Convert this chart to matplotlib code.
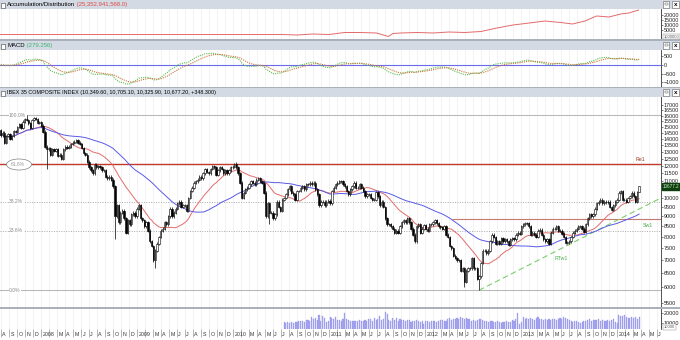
import matplotlib
matplotlib.use('Agg')
import matplotlib.pyplot as plt
import matplotlib.dates as mdates
import matplotlib.transforms as mtransforms
from matplotlib.patches import Rectangle, Ellipse
from matplotlib.ticker import FixedLocator, NullFormatter, FuncFormatter
import numpy as np
import pandas as pd

plt.rcParams['font.family'] = ['Liberation Sans', 'DejaVu Sans']

W, H = 680, 340

# ---------------- data: weekly IBEX 35 closes from week of 2007-07-30 ----------------
first_week = '2007-07-30'
first_open = 14700

close_2007 = [14300, 14500, 13700, 14250, 14400,            # Aug
              14000, 14250, 14650, 14600,                   # Sep
              15000, 15250, 14950, 15450, 15700,            # Oct
              15600, 15300, 14900, 15600,                   # Nov
              15750, 15700, 15350, 15400, 15100]            # Dec
close_2008 = [14600, 13400, 13200, 13300,
              12800, 13200, 13100, 13200,
              12700, 12800, 12500, 13200, 13400,
              13300, 13400, 13600, 13700,
              13800, 13900, 13700, 13600,
              13300, 12900, 12800, 12300, 11900,
              11700, 11500, 12100, 11900,
              12000, 11900, 11700, 11700,
              11300, 11200, 11300, 11100, 10700,
              9000, 9600, 8700, 9200,
              9300, 8900, 8200, 8800,
              8600, 9100, 9200, 9000, 9400]
close_2009 = [9600, 8900, 8800, 8500,
              8700, 8300, 7800, 7600,
              7000, 7400, 7700, 8000, 8300,
              8400, 8700, 8600, 9000,
              9400, 9000, 9200, 9400,
              9700, 9800, 9500, 9600, 9600,
              9300, 10000, 10400, 10600,
              10900, 11000, 11100, 11300, 11200,
              11500, 11800, 11600, 11500,
              11800, 12000, 11900, 11400,
              11700, 11900, 11800, 11500, 11700,
              11500, 11700, 11900, 11950]
close_2010 = [12150, 11900, 11500, 10900,
              10000, 10300, 10500, 10600,
              10800, 11000, 10900, 10800, 11100,
              11200, 11000, 10900, 10300,
              9000, 9700, 9200, 9200, 8900,
              9100, 9800, 9500, 9300,
              9900, 10000, 10200, 10500,
              10700, 10300, 10200, 9900, 10400,
              10400, 10600, 10700, 10500,
              10800, 10800, 10900, 10800,
              10900, 10500, 10200, 9600, 9800,
              9800, 9600, 9800, 9850]
close_2011 = [9700, 10400, 10600, 10800, 10900,
              11000, 11000, 10800, 10700,
              10400, 10200, 10500, 10700,
              10900, 10600, 10600, 10800,
              10600, 10400, 10100, 10200, 10200,
              10000, 9900, 9900, 10350,
              10100, 9600, 9800, 9500,
              8900, 8600, 8600, 8500, 8400,
              8200, 8300, 8200, 8500,
              8700, 8800, 8700, 8900, 8700,
              8400, 8100, 7800, 8500,
              8600, 8200, 8400, 8550]
close_2012 = [8400, 8300, 8600, 8600, 8700,
              8800, 8650, 8500, 8450,
              8400, 8500, 8100, 8000,
              7600, 7500, 7200, 7100, 7000,
              7000, 6600, 6700, 6200,
              6600, 6700, 6700, 7100,
              6700, 6700, 6300, 6400, 6900,
              7400, 7400, 7300, 7400,
              7800, 8100, 8000, 7700,
              7800, 7700, 7950, 7800, 7900,
              7800, 7650, 7900, 7950,
              7900, 8100, 8200, 8150, 8500]
close_2013 = [8600, 8650, 8650, 8500,
              8100, 8200, 8100, 8000,
              8300, 8350, 8100, 7900,
              7800, 7900, 7700, 8200, 8400,
              8400, 8500, 8300, 8300,
              8150, 8000, 7750, 7760,
              7800, 8000, 8200, 8300, 8400,
              8500, 8500, 8400, 8250,
              8600, 8900, 9100, 9000, 9100,
              9400, 9700, 9800, 9900,
              9700, 9800, 9750, 9800,
              9500, 9350, 9600, 9800, 9900]
close_2014 = [10300, 10400, 9900, 9900,
              9800, 10000, 10100, 10300,
              10100, 9800, 10329, 10677.2]
last_open, last_high, last_low = 10349.6, 10705.1, 10325.9

# long wicks (week index -> price)
spike_highs = {14: 16040, 127: 12200}
spike_lows = {25: 11800, 62: 7900, 84: 6700, 146: 8600, 252: 6000, 260: 5905}

# weekly volume, starting at week index 154 (Jul 2010)
vol_first_week = 154
volume = [11000, 10500, 10800,
          10500, 11000, 10200, 10800, 11500,
          12000, 11800, 12500, 11500,
          12800, 13500, 12000, 16000,
          14500, 15000, 13000, 18000, 12500,
          17000, 15500, 11000, 12000,
          16500, 15000, 14500, 16000, 13500,
          13500, 12000, 14000, 20500,
          14000, 13000, 12000, 12500,
          12500, 11800, 12000, 13000,
          12500, 12000, 13500, 12500, 14000,
          13800, 12500, 15000, 13000,
          14000, 17500, 13500, 14500,
          21000, 19000, 13500, 12000, 15500,
          13000, 15000, 12500, 14000,
          13500, 13000, 12500, 13500, 13000,
          11500, 12500, 12500, 13000,
          12000, 11000, 12000, 9500,
          12500, 12000, 11500, 12500, 12000,
          12000, 11500, 12500, 12800,
          13000, 12500, 12000, 14000,
          15500, 13000, 14500, 14000, 15000,
          14500, 16000, 15000, 13800,
          15000, 14500, 14000, 12500,
          13500, 12500, 12800, 14000, 14500,
          13000, 12000, 12500, 11500,
          12000, 12500, 11500, 11000,
          12000, 11000, 10500, 11500, 11000,
          12500, 11500, 11000, 13000,
          12000, 14000, 20000, 9500, 11500,
          16500, 14500, 15000, 14000,
          15000, 14000, 13500, 15500,
          16000, 14000, 14500, 13500,
          14500, 13500, 14500, 13000, 14000,
          14000, 13500, 14500, 15000,
          14500, 16000, 15500, 14000,
          13500, 12000, 11500, 12000, 12500,
          11000, 10500, 11500, 12000,
          12500, 13000, 14000, 12500, 13000,
          13500, 13000, 14500, 12500,
          13500, 12500, 12000, 13000,
          12000, 13000, 14500, 11000, 10500,
          18500, 17500, 17000, 18000,
          16000, 15500, 15000, 16500,
          15500, 16000, 14500, 16000]

# accumulation / distribution (millions)
ad_dates = ['2007-07-30', '2010-07-05', '2010-09-01', '2010-11-01', '2011-01-01',
            '2011-03-01', '2011-05-01', '2011-07-01', '2011-08-15', '2011-09-01',
            '2011-10-01', '2011-12-01', '2012-02-01', '2012-04-01', '2012-06-01',
            '2012-08-01', '2012-10-01', '2012-12-01', '2013-02-01', '2013-04-01',
            '2013-06-01', '2013-07-15', '2013-09-01', '2013-10-15', '2013-12-01',
            '2014-01-15', '2014-02-15', '2014-03-24']
ad_values = [500, 500, 0, 1000, 500,
             2500, 2500, 2000, -1500, 1500,
             2000, 2500, 2000, 3000, 2500,
             3500, 7000, 10000, 12000, 14000,
             12500, 11000, 14000, 19000, 18000,
             21000, 22000, 25000]

fib_high = 16040
fib_low = 5905
fib_levels = [0.0, 0.236, 0.382, 0.618, 1.0]
fib_labels = ['0.0%', '23.6%', '38.2%', '61.8%', '100.0%']

sw1_level = 8850
sw1_start = '2012-04-13'
rtw1_points = [('2012-07-25', 5905), ('2013-08-13', 7910)]

header_ad = ('Accumulation/Distribution', ' (25,352,941,568.0)')
header_macd = ('MACD', ' (279.256)')
header_main = 'IBEX 35 COMPOSITE INDEX (10,349.60, 10,705.10, 10,325.90, 10,677.20, +348.300)'
last_close_label = '10677.2'
month_letters = ['J', 'F', 'M', 'A', 'M', 'J', 'J', 'A', 'S', 'O', 'N', 'D']

# ---------------- prepare ----------------
closes = close_2007 + close_2008 + close_2009 + close_2010 + close_2011 + close_2012 + close_2013 + close_2014
weeks = pd.date_range(first_week, periods=len(closes), freq='7D')
xw = mdates.date2num(weeks) + 2
c = np.array(closes, float)
o = np.r_[first_open, c[:-1]]
o[-1] = last_open
hi = np.maximum(o, c) * 1.008
lo = np.minimum(o, c) * 0.992
hi[-1], lo[-1] = last_high, last_low
for k, v in spike_highs.items():
    hi[k] = v
for k, v in spike_lows.items():
    lo[k] = v

s = pd.Series(c)
ma_red = s.rolling(20, min_periods=1).mean()
ma_blue = s.rolling(50, min_periods=1).mean()
macd = s.ewm(span=12, adjust=False).mean() - s.ewm(span=26, adjust=False).mean()
signal = macd.ewm(span=9, adjust=False).mean()

px_per_day = 0.2628
x_left = mdates.date2num(pd.Timestamp('2007-07-29'))
x_right = x_left + 661 / px_per_day
months = pd.date_range('2007-08-01', '2014-06-01', freq='MS')
month_x = mdates.date2num(months)

# ---------------- figure ----------------
fig = plt.figure(figsize=(6.8, 3.4), dpi=100)
fig.patch.set_facecolor('white')


def fy(y):
    return 1 - y / H


def add_ax(y0, y1):
    ax = fig.add_axes([0, fy(y1), 661 / W, (y1 - y0) / H])
    ax.set_xlim(x_left, x_right)
    for sp in ['top', 'left', 'bottom']:
        ax.spines[sp].set_visible(False)
    ax.spines['right'].set_color('#404040')
    ax.spines['right'].set_linewidth(0.6)
    ax.yaxis.tick_right()
    ax.tick_params(axis='y', labelsize=3.9, length=1.5, width=0.4, pad=0.6, colors='#202020')
    ax.tick_params(axis='y', which='minor', length=1, width=0.3)
    ax.set_xticks(month_x)
    ax.tick_params(axis='x', length=0, labelbottom=False)
    ax.grid(axis='x', color='#ededed', lw=0.5)
    ax.set_axisbelow(True)
    return ax


ax_ad = add_ax(9, 39)
ax_macd = add_ax(50, 87)
ax_main = add_ax(97, 307)
ax_vol = add_ax(309, 329)

# headers and separators
for y0, y1 in [(0, 9), (41, 50), (88, 97)]:
    fig.add_artist(Rectangle((0, fy(y1)), 1, (y1 - y0) / H, transform=fig.transFigure,
                             facecolor='#d3dae3', edgecolor='none', zorder=0.5))
    fig.add_artist(Rectangle((0.5 / W, fy(y0 + 7.5)), 5 / W, 5 / H, transform=fig.transFigure,
                             facecolor='white', edgecolor='#404040', lw=0.4))
    fig.add_artist(Rectangle((663 / W, fy(y0 + 8)), 6 / W, 6.5 / H, transform=fig.transFigure,
                             facecolor='white', edgecolor='#606060', lw=0.4))
    fig.add_artist(Rectangle((672 / W, fy(y0 + 8)), 6.5 / W, 6.5 / H, transform=fig.transFigure,
                             facecolor='white', edgecolor='#606060', lw=0.4))
    fig.text(675.3 / W, fy(y0 + 4.7), 'x', fontsize=4.5, fontweight='bold', ha='center', va='center')
    fig.add_artist(Rectangle((664.5 / W, fy(y0 + 5)), 3 / W, 2 / H, transform=fig.transFigure,
                             facecolor='none', edgecolor='#404040', lw=0.3))
for y0, y1 in [(39, 41), (87, 88), (307, 309)]:
    fig.add_artist(Rectangle((0, fy(y1)), 1, (y1 - y0) / H, transform=fig.transFigure,
                             facecolor='#aab1ba', edgecolor='none', zorder=0.5))

t_ad = fig.text(7 / W, fy(4.6), header_ad[0], fontsize=4.3, va='center', ha='left')
t_macd = fig.text(7 / W, fy(45.6), header_macd[0], fontsize=4.3, va='center', ha='left')
fig.text(7 / W, fy(92.6), header_main, fontsize=3.9, va='center', ha='left')
fig.canvas.draw()
renderer = fig.canvas.get_renderer()
fig.text(t_ad.get_window_extent(renderer).x1 / W, fy(4.6), header_ad[1], fontsize=4.3,
         va='center', ha='left', color='#e04848')
fig.text(t_macd.get_window_extent(renderer).x1 / W, fy(45.6), header_macd[1], fontsize=4.3,
         va='center', ha='left', color='#3cb371')

# ---------------- A/D ----------------
ax_ad.plot(mdates.date2num(pd.to_datetime(ad_dates)), ad_values, color='#e46a6a', lw=0.7)
ax_ad.set_ylim(-4000, 26000)
ax_ad.set_yticks([5000, 10000, 15000, 20000])
ax_ad.yaxis.set_minor_locator(FixedLocator(range(-3000, 26000, 1000)))
ax_ad.text(1.004, 0.08, '1000000', transform=ax_ad.transAxes, fontsize=3.0, color='#555555',
           ha='left', va='center', clip_on=False,
           bbox=dict(boxstyle='square,pad=0.15', fc='white', ec='#808080', lw=0.3))

# ---------------- MACD ----------------
ax_macd.axhline(0, color='#6a6aee', lw=0.8)
ax_macd.plot(xw, macd, color='#5fbf4f', lw=0.8, ls=(0, (1, 1)))
ax_macd.plot(xw, signal, color='#c8743c', lw=0.8, ls=(0, (1, 1)))
ax_macd.set_ylim(-1272, 867)
ax_macd.set_yticks([-1000, -500, 0, 500])
ax_macd.yaxis.set_minor_locator(FixedLocator(range(-1200, 900, 100)))

# ---------------- main price panel ----------------
ax_main.set_yscale('log')
ax_main.set_ylim(5367, 17793)
ax_main.yaxis.set_major_locator(FixedLocator(range(5500, 17001, 500)))
# the 10500 label sits under the last-price tag
ax_main.yaxis.set_major_formatter(FuncFormatter(lambda v, p: '' if abs(v - 10500) < 1 else f'{v:.0f}'))
ax_main.yaxis.set_minor_locator(FixedLocator(range(5400, 17800, 100)))
ax_main.yaxis.set_minor_formatter(NullFormatter())
ax_main.tick_params(axis='y', labelsize=3.9, length=1.5, width=0.4, pad=0.6)

blend = mtransforms.blended_transform_factory(ax_main.transAxes, ax_main.transData)
for lvl, lab in zip(fib_levels, fib_labels):
    val = fib_low + lvl * (fib_high - fib_low)
    if lvl == 0.618:
        ax_main.axhline(val, color='#c0392b', lw=1.0, zorder=2)
    elif lvl in (0.0, 1.0):
        ax_main.axhline(val, color='#b9b9b9', lw=0.8, zorder=2)
    else:
        ax_main.axhline(val, color='#a8a8a8', lw=0.7, ls=(0, (1, 1.5)), zorder=2)
    if lvl == 0.618:
        fig.add_artist(Ellipse((19 / W, fy(164.5)), 25 / W, 11 / H, transform=fig.transFigure,
                               facecolor='white', edgecolor='#808080', lw=0.5, zorder=2))
        fig.text(11 / W, fy(164.5), lab, fontsize=3.6, color='#9a9a9a', ha='left', va='center', zorder=3)
    else:
        ax_main.text(9 / 661, val, lab, transform=blend, fontsize=3.6, color='#8a8a8a',
                     ha='left', va='center', zorder=6,
                     bbox=dict(boxstyle='square,pad=0.1', fc='white', ec='none'))

ax_main.hlines(sw1_level, mdates.date2num(pd.Timestamp(sw1_start)), x_right,
               color='#c47a6e', lw=0.8, zorder=2)
rx = mdates.date2num(pd.to_datetime([p[0] for p in rtw1_points]))
ry = np.log([p[1] for p in rtw1_points])
slope = (ry[1] - ry[0]) / (rx[1] - rx[0])
ax_main.plot([rx[0], x_right], [np.exp(ry[0]), np.exp(ry[0] + slope * (x_right - rx[0]))],
             color='#7ccf6a', lw=0.8, ls=(0, (5, 3)), zorder=2)

ax_main.text(636 / 661, 12450, 'Re1', transform=blend, fontsize=3.8, color='#a03020', ha='left', va='center')
ax_main.text(643 / 661, 8560, 'Sw1', transform=blend, fontsize=3.8, color='#4caf50', ha='left', va='center')
ax_main.text(555 / 661, 7080, 'RTw1', transform=blend, fontsize=3.8, color='#4caf50', ha='left', va='center')

ax_main.plot(xw, ma_red, color='#e46c6c', lw=0.7, zorder=3)
ax_main.plot(xw, ma_blue, color='#5a5ae6', lw=0.7, zorder=3)

up = c >= o
ax_main.vlines(xw, lo, hi, color='black', lw=0.5, zorder=4)
ax_main.bar(xw[up], (c - o)[up], bottom=o[up], width=5, color='white', edgecolor='black', lw=0.4, zorder=5)
ax_main.bar(xw[~up], (o - c)[~up], bottom=c[~up], width=5, color='black', edgecolor='black', lw=0.4, zorder=5)

ax_main.text(1.003, closes[-1], last_close_label, transform=blend, fontsize=3.3, color='#c8f5c8',
             ha='left', va='center', clip_on=False, zorder=10,
             bbox=dict(boxstyle='square,pad=0.12', fc='#0f3f0f', ec='#0f3f0f'))

# ---------------- volume ----------------
ax_vol.bar(xw[vol_first_week:], volume, width=4.2, color='#a6a6f2', edgecolor='#8e8ee6', lw=0.2)
ax_vol.set_ylim(4000, 24000)
ax_vol.set_yticks([10000, 20000])
ax_vol.yaxis.set_minor_locator(FixedLocator(range(5000, 24000, 1000)))
ax_vol.tick_params(axis='x', direction='out', length=6, width=0.4, colors='#7a7a7a', labelbottom=False)
ax_vol.text(1.004, 0.1, '10000', transform=ax_vol.transAxes, fontsize=3.0, color='#555555',
            ha='left', va='center', clip_on=False,
            bbox=dict(boxstyle='square,pad=0.15', fc='white', ec='#808080', lw=0.3))

bl_x = mtransforms.blended_transform_factory(ax_vol.transData, ax_vol.transAxes)
for m, mx in zip(months, month_x):
    if m.month == 2:
        continue
    lab = str(m.year) if m.month == 1 else month_letters[m.month - 1]
    ax_vol.text(mx + 1.5 / px_per_day, -0.27, lab, transform=bl_x, fontsize=3.8,
                color='#333333', ha='left', va='center', clip_on=False)

fig.savefig('out.png', dpi=100)
